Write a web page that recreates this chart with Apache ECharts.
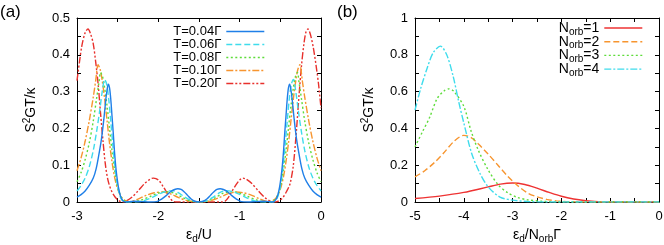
<!DOCTYPE html>
<html><head><meta charset="utf-8">
<script src="https://cdn.jsdelivr.net/npm/echarts@6/dist/echarts.min.js"></script>
<style>html,body{margin:0;padding:0;background:#fff}#c{width:664px;height:245px}</style>
</head><body><div id="c"></div>
<script>
// Panel (a): S^2GT/kappa vs eps_d/U for several temperatures
const namesA = ['T=0.04Γ','T=0.06Γ','T=0.08Γ','T=0.10Γ','T=0.20Γ'];
const t004 = [[-3.00,0.013],[-2.95,0.020],[-2.90,0.030],[-2.85,0.045],[-2.80,0.065],[-2.765,0.09],[-2.73,0.13],[-2.70,0.17],[-2.67,0.225],[-2.645,0.28],[-2.63,0.305],[-2.615,0.32],[-2.60,0.31],[-2.585,0.28],[-2.57,0.235],[-2.555,0.19],[-2.54,0.14],[-2.525,0.10],[-2.51,0.07],[-2.49,0.04],[-2.465,0.016],[-2.44,0.005],[-2.41,0.0],[-2.3,0.002],[-2.2,0.001],[-2.1,0.0],[-2.02,0.001],[-1.96,0.008],[-1.9,0.018],[-1.85,0.028],[-1.8,0.034],[-1.76,0.036],[-1.72,0.034],[-1.68,0.027],[-1.64,0.018],[-1.6,0.009],[-1.55,0.002],[-1.5,0],
  [-1.45,0.002],[-1.4,0.009],[-1.36,0.018],[-1.32,0.027],[-1.28,0.034],[-1.24,0.036],[-1.2,0.034],[-1.15,0.028],[-1.1,0.018],[-1.04,0.008],[-0.98,0.001],[-0.9,0.0],[-0.8,0.001],[-0.7,0.002],[-0.59,0.0],[-0.56,0.005],[-0.535,0.016],[-0.51,0.04],[-0.49,0.07],[-0.475,0.10],[-0.46,0.14],[-0.445,0.19],[-0.43,0.235],[-0.415,0.28],[-0.40,0.31],[-0.385,0.32],[-0.37,0.305],[-0.355,0.28],[-0.33,0.225],[-0.30,0.17],[-0.27,0.13],[-0.235,0.09],[-0.20,0.065],[-0.15,0.045],[-0.10,0.030],[-0.05,0.020],[0.00,0.013]];
const t006 = [[-3,0.03],[-2.95,0.045],[-2.9,0.065],[-2.85,0.095],[-2.8,0.14],[-2.76,0.19],[-2.72,0.25],[-2.69,0.3],[-2.66,0.333],[-2.635,0.32],[-2.61,0.28],[-2.585,0.22],[-2.56,0.155],[-2.535,0.1],[-2.51,0.055],[-2.48,0.022],[-2.45,0.006],[-2.41,0.0],[-2.3,0.0],[-2.2,0.002],[-2.1,0.01],[-2.0,0.021],[-1.9,0.029],[-1.83,0.031],[-1.76,0.026],[-1.68,0.014],[-1.6,0.004],[-1.55,0.001],[-1.5,0],
  [-1.45,0.001],[-1.4,0.004],[-1.32,0.014],[-1.24,0.026],[-1.17,0.031],[-1.1,0.029],[-1.0,0.021],[-0.9,0.01],[-0.8,0.002],[-0.7,0.0],[-0.59,0.0],[-0.55,0.006],[-0.52,0.022],[-0.49,0.055],[-0.465,0.1],[-0.44,0.155],[-0.415,0.22],[-0.39,0.28],[-0.365,0.32],[-0.34,0.333],[-0.31,0.3],[-0.28,0.25],[-0.24,0.19],[-0.2,0.14],[-0.15,0.095],[-0.1,0.065],[-0.05,0.045],[0,0.03]];
const t008 = [[-3,0.055],[-2.95,0.08],[-2.9,0.115],[-2.85,0.16],[-2.8,0.22],[-2.76,0.28],[-2.73,0.325],[-2.71,0.352],[-2.685,0.34],[-2.66,0.31],[-2.63,0.26],[-2.6,0.2],[-2.57,0.14],[-2.54,0.09],[-2.51,0.05],[-2.47,0.02],[-2.43,0.006],[-2.38,0.001],[-2.3,0.001],[-2.2,0.006],[-2.1,0.015],[-2.0,0.024],[-1.9,0.028],[-1.8,0.024],[-1.7,0.012],[-1.6,0.003],[-1.5,0],
  [-1.4,0.003],[-1.3,0.012],[-1.2,0.024],[-1.1,0.028],[-1.0,0.024],[-0.9,0.015],[-0.8,0.006],[-0.7,0.001],[-0.62,0.001],[-0.57,0.006],[-0.53,0.02],[-0.49,0.05],[-0.46,0.09],[-0.43,0.14],[-0.4,0.2],[-0.37,0.26],[-0.34,0.31],[-0.315,0.34],[-0.29,0.352],[-0.27,0.325],[-0.24,0.28],[-0.2,0.22],[-0.15,0.16],[-0.1,0.115],[-0.05,0.08],[0,0.055]];
const t010 = [[-3,0.085],[-2.95,0.12],[-2.9,0.165],[-2.85,0.22],[-2.8,0.285],[-2.77,0.33],[-2.74,0.373],[-2.715,0.36],[-2.69,0.33],[-2.66,0.28],[-2.63,0.22],[-2.6,0.16],[-2.57,0.11],[-2.54,0.07],[-2.5,0.035],[-2.45,0.012],[-2.4,0.003],[-2.35,0.001],[-2.25,0.008],[-2.15,0.018],[-2.05,0.025],[-1.95,0.027],[-1.85,0.022],[-1.75,0.012],[-1.65,0.004],[-1.55,0.0005],[-1.5,0],
  [-1.45,0.0005],[-1.35,0.004],[-1.25,0.012],[-1.15,0.022],[-1.05,0.027],[-0.95,0.025],[-0.85,0.018],[-0.75,0.008],[-0.65,0.001],[-0.6,0.003],[-0.55,0.012],[-0.5,0.035],[-0.46,0.07],[-0.43,0.11],[-0.4,0.16],[-0.37,0.22],[-0.34,0.28],[-0.31,0.33],[-0.285,0.36],[-0.26,0.373],[-0.23,0.33],[-0.2,0.285],[-0.15,0.22],[-0.1,0.165],[-0.05,0.12],[0,0.085]];
const t020 = [[-3,0.33],[-2.97,0.38],[-2.94,0.425],[-2.9,0.46],[-2.865,0.47],[-2.83,0.455],[-2.8,0.43],[-2.77,0.38],[-2.74,0.32],[-2.71,0.24],[-2.68,0.165],[-2.65,0.1],[-2.62,0.06],[-2.58,0.032],[-2.53,0.013],[-2.48,0.003],[-2.44,0.0],[-2.4,0.002],[-2.33,0.012],[-2.25,0.03],[-2.17,0.05],[-2.1,0.062],[-2.06,0.065],[-2.0,0.06],[-1.95,0.045],[-1.9,0.027],[-1.86,0.012],[-1.82,0.002],[-1.78,0.0],[-1.5,0],
  [-1.22,0.0],[-1.18,0.002],[-1.14,0.012],[-1.1,0.027],[-1.05,0.045],[-1.0,0.06],[-0.96,0.065],[-0.92,0.062],[-0.85,0.05],[-0.77,0.03],[-0.69,0.012],[-0.62,0.002],[-0.56,0.0],[-0.52,0.003],[-0.47,0.012],[-0.42,0.03],[-0.38,0.05],[-0.34,0.1],[-0.30,0.2],[-0.27,0.29],[-0.24,0.37],[-0.21,0.43],[-0.185,0.462],[-0.16,0.47],[-0.13,0.455],[-0.095,0.42],[-0.06,0.37],[-0.03,0.32],[0,0.255]];

// Panel (b): S^2GT/kappa vs eps_d/(N_orb Gamma)
const namesB = ['Norb=1','Norb=2','Norb=3','Norb=4'];
const n1 = [[-5,0.019],[-4.5,0.032],[-4,0.052],[-3.5,0.082],[-3.25,0.097],[-3,0.103],[-2.75,0.095],[-2.5,0.075],[-2.25,0.052],[-2,0.031],[-1.75,0.016],[-1.5,0.007],[-1.25,0.002],[-1,0.0005],[-0.5,0],[0,0]];
const n2 = [[-5,0.137],[-4.8,0.17],[-4.6,0.215],[-4.4,0.27],[-4.2,0.33],[-4.0,0.362],[-3.85,0.35],[-3.7,0.315],[-3.5,0.26],[-3.3,0.2],[-3.1,0.14],[-2.9,0.09],[-2.7,0.05],[-2.5,0.028],[-2.3,0.014],[-2.1,0.006],[-1.9,0.002],[-1.5,0],[0,0]];
const n3 = [[-5,0.30],[-4.85,0.38],[-4.7,0.46],[-4.55,0.56],[-4.4,0.605],[-4.3,0.615],[-4.2,0.60],[-4.0,0.52],[-3.85,0.385],[-3.7,0.28],[-3.5,0.174],[-3.3,0.095],[-3.1,0.05],[-2.9,0.025],[-2.7,0.012],[-2.4,0.004],[-2,0],[0,0]];
const n4 = [[-5,0.50],[-4.88,0.62],[-4.76,0.72],[-4.63,0.81],[-4.48,0.847],[-4.35,0.80],[-4.22,0.685],[-4.1,0.54],[-4.0,0.43],[-3.84,0.265],[-3.67,0.156],[-3.5,0.082],[-3.26,0.027],[-3.0,0.01],[-2.7,0.003],[-2.3,0],[0,0]];

const xTicksA = [-3,-2,-1,0];
const yTicksA = [0,0.1,0.2,0.3,0.4,0.5];
const xTicksB = [-5,-4,-3,-2,-1,0];
const yTicksB = [0,0.2,0.4,0.6,0.8,1];

const FONT = 'Liberation Sans, Arial, sans-serif';
const BLK = '#000';
const colorsA = ['#1f7fe8','#3fdcec','#5edc3a','#f7952f','#e8302c'];
const dashA = ['solid',[6,3],[2,2.5],[7,2,2,2],[7,2,2,2,2,2]];
const colorsB = ['#ee3333','#f7952f','#5edc3a','#3fdcec'];
const dashB = ['solid',[6,3],[2,2.5],[7,2,2,2]];

function near(v, list){ return list.some(t => Math.abs(t - v) < 1e-6); }
function fmt(v, list){ if(!near(v,list)) return ''; const r = Math.round(v*10)/10; return String(r); }

function xAx(grid, min, max, ticks, name, pos){
  const main = pos === 'bottom';
  const o = {gridIndex:grid, type:'value', min:min, max:max, interval:0.5, position:pos,
    axisLine:{show:true, onZero:false, lineStyle:{color:BLK, width:1}},
    axisTick:{show:true, inside:true, length:4, lineStyle:{color:BLK}},
    axisLabel:{show:main, formatter:v=>fmt(v,ticks), color:BLK, fontSize:13, fontFamily:FONT, margin:8, showMinLabel:true, showMaxLabel:true},
    splitLine:{show:false}};
  if(main){
    o.name = name; o.nameLocation='middle'; o.nameGap=16;
    o.nameTextStyle = {color:BLK, fontSize:14, fontFamily:FONT,
      rich:{i:{fontSize:14, lineHeight:18, color:BLK, fontFamily:FONT}, s:{fontSize:10, lineHeight:9, verticalAlign:'bottom', color:BLK, fontFamily:FONT}}};
  }
  return o;
}
function yAx(grid, min, max, interval, ticks, pos){
  const main = pos === 'left';
  const o = {gridIndex:grid, type:'value', min:min, max:max, interval:interval, position:pos,
    axisLine:{show:true, onZero:false, lineStyle:{color:BLK, width:1}},
    axisTick:{show:true, inside:true, length:4, lineStyle:{color:BLK}},
    axisLabel:{show:main, formatter:v=>fmt(v,ticks), color:BLK, fontSize:13, fontFamily:FONT, margin:7},
    splitLine:{show:false}};
  if(main){
    o.name = '{i|S}{p|2}{i|GT/κ}'; o.nameLocation='middle'; o.nameGap=37; o.nameRotate=90;
    o.nameTextStyle = {color:BLK, fontSize:14, fontFamily:FONT,
      rich:{i:{fontSize:14, lineHeight:18, color:BLK, fontFamily:FONT}, p:{fontSize:10, lineHeight:9, verticalAlign:'top', color:BLK, fontFamily:FONT}}};
  }
  return o;
}

const series = [];
[t004,t006,t008,t010,t020].forEach((d,i)=>{
  series.push({name:namesA[i], type:'line', xAxisIndex:0, yAxisIndex:0, data:d, symbol:'none', showSymbol:false, smooth:0.3, clip:true,
    lineStyle:{color:colorsA[i], width:1.4, type:dashA[i]}, itemStyle:{color:colorsA[i]}, z: 10 - i});
});
[n1,n2,n3,n4].forEach((d,i)=>{
  series.push({name:namesB[i], type:'line', xAxisIndex:2, yAxisIndex:2, data:d, symbol:'none', showSymbol:false, smooth:0.3, clip:true,
    lineStyle:{color:colorsB[i], width:1.4, type:dashB[i]}, itemStyle:{color:colorsB[i]}});
});

const legendCommon = {orient:'vertical', align:'right', padding:0, itemWidth:38, itemHeight:8,
  itemStyle:{opacity:0, borderWidth:0}, lineStyle:{width:1.4}};

const chart = echarts.init(document.getElementById('c'), null, {renderer:'canvas'});
chart.setOption({
  animation:false,
  backgroundColor:'#fff',
  textStyle:{fontFamily:FONT},
  grid:[
    {left:77, right:343, top:18, bottom:43, show:false, outerBoundsMode:'none', containLabel:false},
    {left:415, right:5, top:18, bottom:43, show:false, outerBoundsMode:'none', containLabel:false}
  ],
  xAxis:[
    xAx(0,-3,0,xTicksA,'{i|ε}{s|d}{i|/U}','bottom'),
    xAx(0,-3,0,xTicksA,'','top'),
    xAx(1,-5,0,xTicksB,'{i|ε}{s|d}{i|/N}{s|orb}{i|Γ}','bottom'),
    xAx(1,-5,0,xTicksB,'','top')
  ],
  yAxis:[
    yAx(0,0,0.5,0.05,yTicksA,'left'),
    yAx(0,0,0.5,0.05,yTicksA,'right'),
    yAx(1,0,1,0.1,yTicksB,'left'),
    yAx(1,0,1,0.1,yTicksB,'right')
  ],
  legend:[
    Object.assign({data:namesA, right:399, top:25, itemGap:0,
     textStyle:{fontSize:13, lineHeight:12.5, color:BLK, fontFamily:FONT}}, legendCommon),
    Object.assign({data:namesB, right:21, top:21, itemGap:-2.3,
     formatter: n => '{n|N}{s|orb}{n|=' + n.slice(-1) + '}',
     textStyle:{fontSize:13, color:BLK, fontFamily:FONT,
       rich:{n:{fontSize:14, lineHeight:18, color:BLK, fontFamily:FONT}, s:{fontSize:10, lineHeight:9, verticalAlign:'bottom', color:BLK, fontFamily:FONT}}}}, legendCommon)
  ],
  graphic:[
    {type:'text', left:0, top:4, style:{text:'(a)', font:'17px Liberation Sans', fill:BLK}},
    {type:'text', left:337, top:4, style:{text:'(b)', font:'17px Liberation Sans', fill:BLK}}
  ],
  series: series
});
</script>
</body></html>
